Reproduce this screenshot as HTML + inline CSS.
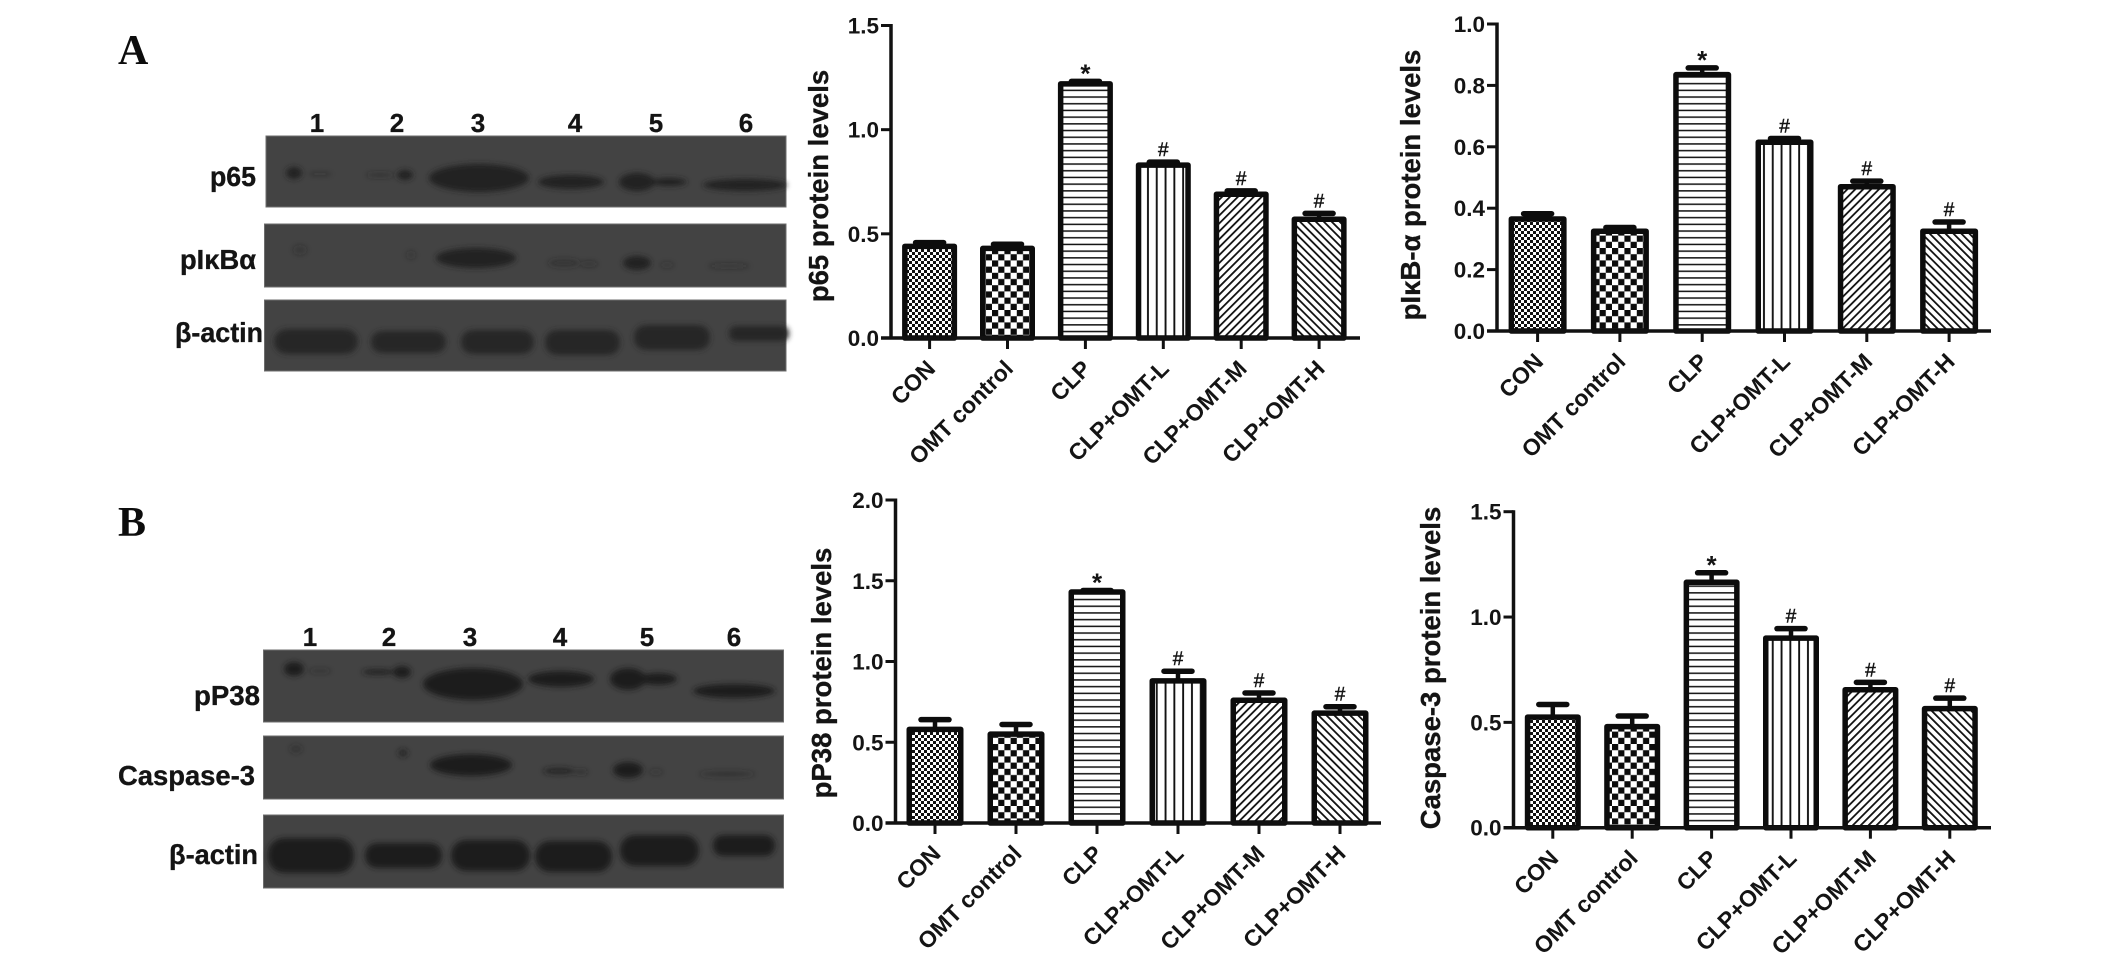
<!DOCTYPE html>
<html lang="en">
<head>
<meta charset="utf-8">
<title>Western blots and protein level bar charts</title>
<style>
html,body{margin:0;padding:0;background:#fff;}
body{width:2126px;height:976px;overflow:hidden;}
svg{display:block;}
text{font-family:"Liberation Sans",Arial,sans-serif;font-weight:bold;fill:#141414;}
.panel{font-family:"Liberation Serif",serif;font-size:42px;fill:#0c0c0c;}
.blot{fill:#434343;stroke:#6c6c6c;stroke-width:1;}
.lane{font-size:26px;text-anchor:middle;stroke:#141414;stroke-width:.3px;}
.blot-label{font-size:28px;text-anchor:end;stroke:#141414;stroke-width:.35px;}
</style>
</head>
<body>
<svg id="figure" xmlns="http://www.w3.org/2000/svg" width="2126" height="976" viewBox="0 0 2126 976">
<defs>
<filter id="soft" x="-40%" y="-60%" width="180%" height="220%"><feGaussianBlur stdDeviation="2.6"/></filter>
<pattern id="fill-fine" patternUnits="userSpaceOnUse" width="6" height="6"><rect width="6" height="6" fill="#fff"/><rect width="3" height="3" fill="#111"/><rect x="3" y="3" width="3" height="3" fill="#111"/></pattern>
<pattern id="fill-coarse" patternUnits="userSpaceOnUse" width="12.4" height="12.4"><rect width="12.4" height="12.4" fill="#fff"/><rect width="6.2" height="6.2" fill="#0c0c0c"/><rect x="6.2" y="6.2" width="6.2" height="6.2" fill="#0c0c0c"/></pattern>
<pattern id="fill-horizontal" patternUnits="userSpaceOnUse" width="6.7" height="6.7"><rect width="6.7" height="6.7" fill="#fff"/><rect y="2.5" width="6.7" height="1.5" fill="#111"/></pattern>
<pattern id="fill-vertical" patternUnits="userSpaceOnUse" width="8.8" height="8.8"><rect width="8.8" height="8.8" fill="#fff"/><rect x="3" width="1.9" height="8.8" fill="#111"/></pattern>
<pattern id="fill-forward" patternUnits="userSpaceOnUse" width="5.6" height="5.6" patternTransform="rotate(45)"><rect width="5.6" height="5.6" fill="#fff"/><rect width="1.8" height="5.6" fill="#111"/></pattern>
<pattern id="fill-back" patternUnits="userSpaceOnUse" width="5.6" height="5.6" patternTransform="rotate(-45)"><rect width="5.6" height="5.6" fill="#fff"/><rect width="1.8" height="5.6" fill="#111"/></pattern>
</defs>

<text class="panel" x="118" y="64">A</text>
<text class="panel" x="118" y="536">B</text>

<g>
<g>
<text class="lane" x="317" y="132">1</text>
<text class="lane" x="397" y="132">2</text>
<text class="lane" x="478" y="132">3</text>
<text class="lane" x="575" y="132">4</text>
<text class="lane" x="656" y="132">5</text>
<text class="lane" x="746" y="132">6</text>
</g>
<text class="blot-label" x="256" y="186" textLength="46" lengthAdjust="spacingAndGlyphs">p65</text>
<text class="blot-label" x="256" y="269" textLength="76" lengthAdjust="spacingAndGlyphs">pIκBα</text>
<text class="blot-label" x="263" y="342" textLength="88" lengthAdjust="spacingAndGlyphs">β-actin</text>
<rect class="blot" x="266" y="136" width="520" height="71"/>
<rect class="blot" x="264.5" y="224" width="521.5" height="63"/>
<rect class="blot" x="264.5" y="300" width="521.5" height="71"/>
<g fill="#222" filter="url(#soft)">
<ellipse cx="294" cy="173" rx="8" ry="6"/>
<ellipse cx="320" cy="174" rx="12" ry="2" opacity=".3"/>
<ellipse cx="380" cy="175" rx="14" ry="2.5" opacity=".45"/>
<ellipse cx="405" cy="175" rx="8" ry="5"/>
<ellipse cx="479" cy="178" rx="50" ry="14"/>
<ellipse cx="571" cy="182" rx="33" ry="7"/>
<ellipse cx="637" cy="182" rx="18" ry="9"/>
<ellipse cx="669" cy="182" rx="18" ry="4"/>
<ellipse cx="745" cy="185" rx="42" ry="6"/>
</g>
<g fill="#222" filter="url(#soft)">
<ellipse cx="300" cy="250" rx="7" ry="5" opacity=".3"/>
<ellipse cx="411" cy="255" rx="5" ry="4" opacity=".3"/>
<ellipse cx="476" cy="258" rx="40" ry="10"/>
<ellipse cx="564" cy="263" rx="16" ry="4" opacity=".45"/>
<ellipse cx="589" cy="264" rx="9" ry="3" opacity=".35"/>
<ellipse cx="637" cy="263" rx="14" ry="7"/>
<ellipse cx="667" cy="265" rx="7" ry="3" opacity=".3"/>
<ellipse cx="729" cy="266" rx="21" ry="3" opacity=".3"/>
</g>
<g fill="#262626" filter="url(#soft)">
<rect x="274" y="329" width="84" height="25" rx="13"/>
<rect x="371" y="331" width="75" height="22" rx="11"/>
<rect x="461" y="330" width="73" height="24" rx="12"/>
<rect x="545" y="330" width="75" height="25" rx="12"/>
<rect x="634" y="325" width="76" height="25" rx="12"/>
<rect x="729" y="326" width="60" height="15" rx="7"/>
</g>
</g>

<g>
<g>
<text class="lane" x="310" y="646">1</text>
<text class="lane" x="389" y="646">2</text>
<text class="lane" x="470" y="646">3</text>
<text class="lane" x="560" y="646">4</text>
<text class="lane" x="647" y="646">5</text>
<text class="lane" x="734" y="646">6</text>
</g>
<text class="blot-label" x="260" y="705" textLength="66" lengthAdjust="spacingAndGlyphs">pP38</text>
<text class="blot-label" x="255" y="785" textLength="137" lengthAdjust="spacingAndGlyphs">Caspase-3</text>
<text class="blot-label" x="258" y="864" textLength="89" lengthAdjust="spacingAndGlyphs">β-actin</text>
<rect class="blot" x="263.5" y="650" width="520" height="72"/>
<rect class="blot" x="263.5" y="736" width="520" height="63"/>
<rect class="blot" x="263.5" y="815" width="520" height="73"/>
<g fill="#1f1f1f" filter="url(#soft)">
<ellipse cx="294" cy="669" rx="10" ry="7"/>
<ellipse cx="320" cy="671" rx="11" ry="2" opacity=".5"/>
<ellipse cx="378" cy="672" rx="16" ry="2.5"/>
<ellipse cx="402" cy="672" rx="9" ry="6"/>
<ellipse cx="473" cy="684" rx="50" ry="16"/>
<ellipse cx="561" cy="679" rx="33" ry="8"/>
<ellipse cx="628" cy="679" rx="18" ry="11"/>
<ellipse cx="658" cy="679" rx="19" ry="6"/>
<ellipse cx="734" cy="691" rx="41" ry="7"/>
</g>
<g fill="#1f1f1f" filter="url(#soft)">
<ellipse cx="296" cy="749" rx="6" ry="4" opacity=".45"/>
<ellipse cx="403" cy="753" rx="5" ry="4" opacity=".7"/>
<ellipse cx="471" cy="765" rx="41" ry="11"/>
<ellipse cx="559" cy="771" rx="16" ry="3.5" opacity=".7"/>
<ellipse cx="581" cy="772" rx="7" ry="2.5" opacity=".5"/>
<ellipse cx="628" cy="770" rx="15" ry="8"/>
<ellipse cx="656" cy="772" rx="7" ry="3" opacity=".3"/>
<ellipse cx="727" cy="774" rx="28" ry="3" opacity=".45"/>
</g>
<g fill="#1f1f1f" filter="url(#soft)">
<rect x="268" y="838" width="86" height="35" rx="16"/>
<rect x="365" y="843" width="77" height="25" rx="12"/>
<rect x="451" y="840" width="79" height="31" rx="15"/>
<rect x="535" y="841" width="77" height="31" rx="15"/>
<rect x="620" y="835" width="79" height="31" rx="15"/>
<rect x="713" y="835" width="62" height="21" rx="10"/>
</g>
</g>
</svg>

<script>
const categories = ["CON", "OMT control", "CLP", "CLP+OMT-L", "CLP+OMT-M", "CLP+OMT-H"];
const significance = ["", "", "*", "#", "#", "#"];

const p65Values = [0.44, 0.43, 1.22, 0.83, 0.69, 0.57];
const p65Errors = [0.018, 0.02, 0.012, 0.014, 0.016, 0.028];
const p65Ticks = ["0.0", "0.5", "1.0", "1.5"];

const pikbaValues = [0.365, 0.325, 0.835, 0.615, 0.47, 0.325];
const pikbaErrors = [0.017, 0.012, 0.022, 0.012, 0.018, 0.03];
const pikbaTicks = ["0.0", "0.2", "0.4", "0.6", "0.8", "1.0"];

const pp38Values = [0.58, 0.55, 1.43, 0.88, 0.76, 0.68];
const pp38Errors = [0.06, 0.06, 0.01, 0.06, 0.045, 0.04];
const pp38Ticks = ["0.0", "0.5", "1.0", "1.5", "2.0"];

const caspaseValues = [0.525, 0.48, 1.165, 0.90, 0.655, 0.565];
const caspaseErrors = [0.06, 0.05, 0.045, 0.045, 0.035, 0.05];
const caspaseTicks = ["0.0", "0.5", "1.0", "1.5"];

const barFills = ["fill-fine", "fill-coarse", "fill-horizontal", "fill-vertical", "fill-forward", "fill-back"];

const NS = "http://www.w3.org/2000/svg";
const figure = document.getElementById("figure");

function shape(parent, tag, props) {
  const el = document.createElementNS(NS, tag);
  for (const key in props) el.setAttribute(key, props[key]);
  parent.appendChild(el);
  return el;
}

function drawChart(layout, title, values, errors, ticks) {
  const group = shape(figure, "g", {});
  
  

  const yMax = parseFloat(ticks[ticks.length - 1]);
  const yScale = v => layout.zeroY - (v / yMax) * (layout.zeroY - layout.topY);
  const xScale = i => layout.firstX + i * layout.stepX;
  const barWidth = layout.barWidth;

  values.forEach((value, i) => {
    const cx = xScale(i);
    const top = yScale(value);
    const errTop = yScale(value + errors[i]);

    const stem = shape(group, "line", { x1: cx, x2: cx, y1: top, y2: errTop, stroke: "#0c0c0c", "stroke-width": 4.5 });
    
    

    const cap = shape(group, "line", { x1: cx - 14, x2: cx + 14, y1: errTop, y2: errTop, stroke: "#0c0c0c", "stroke-width": 5.5, "stroke-linecap": "round" });
    
    

    const bar = shape(group, "rect", {
      x: cx - barWidth / 2 + 2.75, y: top, width: barWidth - 5.5, height: layout.zeroY - top,
      fill: "url(#" + barFills[i] + ")", stroke: "#0c0c0c", "stroke-width": 5.5, "stroke-linejoin": "round"
    });
    
    

    if (significance[i]) {
      const isStar = significance[i] === "*";
      const mark = shape(group, "text", { x: cx, y: isStar ? errTop + 1 : errTop - 6, "text-anchor": "middle", "font-size": isStar ? 26 : 19, style: isStar ? "" : "font-weight:normal;stroke:#141414;stroke-width:.45px" });
      mark.textContent = significance[i];
      
      
    }

    const xTick = shape(group, "line", { x1: cx, x2: cx, y1: layout.zeroY, y2: layout.zeroY + 11, stroke: "#111", "stroke-width": 3 });
    
    

    const labelX = cx + 7;
    const labelY = layout.zeroY + 32;
    const xLabel = shape(group, "text", { x: labelX, y: labelY, "text-anchor": "end", "font-size": 23, transform: "rotate(-45 " + labelX + " " + labelY + ")" });
    xLabel.textContent = categories[i];
    
    
  });

  const yAxis = shape(group, "line", { x1: layout.axisX, x2: layout.axisX, y1: layout.topY - 1.5, y2: layout.zeroY, stroke: "#111", "stroke-width": 3.5 });
  
  

  const xAxis = shape(group, "line", { x1: layout.axisX - 10, x2: layout.axisEnd, y1: layout.zeroY, y2: layout.zeroY, stroke: "#111", "stroke-width": 3.5 });
  
  

  ticks.forEach(tick => {
    const y = yScale(parseFloat(tick));
    const yTick = shape(group, "line", { x1: layout.axisX - 10, x2: layout.axisX, y1: y, y2: y, stroke: "#111", "stroke-width": 3 });
    
    

    const yLabel = shape(group, "text", { x: layout.axisX - 12, y: y + 8, "text-anchor": "end", "font-size": 22.5 });
    yLabel.textContent = tick;
    
    
  });

  const yTitle = shape(group, "text", { x: layout.titleX, y: layout.titleY, "text-anchor": "middle", "font-size": 27.5, stroke: "#141414", "stroke-width": 0.3, transform: "rotate(-90 " + layout.titleX + " " + layout.titleY + ")" });
  yTitle.textContent = title;
  
  
}

drawChart({ name: "p65-chart", axisX: 891, axisEnd: 1360, topY: 25.5, zeroY: 338, firstX: 929.6, stepX: 77.9, barWidth: 55, titleX: 828, titleY: 186 },
  "p65 protein levels", p65Values, p65Errors, p65Ticks);
drawChart({ name: "pikb-alpha-chart", axisX: 1497, axisEnd: 1991, topY: 24, zeroY: 331, firstX: 1537.6, stepX: 82.3, barWidth: 58, titleX: 1420, titleY: 185 },
  "pIκB-α protein levels", pikbaValues, pikbaErrors, pikbaTicks);
drawChart({ name: "pp38-chart", axisX: 895.5, axisEnd: 1381, topY: 500, zeroY: 823, firstX: 935, stepX: 81, barWidth: 57, titleX: 831, titleY: 673 },
  "pP38 protein levels", pp38Values, pp38Errors, pp38Ticks);
drawChart({ name: "caspase-3-chart", axisX: 1513.5, axisEnd: 1991, topY: 511.7, zeroY: 827.7, firstX: 1552.8, stepX: 79.4, barWidth: 56, titleX: 1440, titleY: 668 },
  "Caspase-3 protein levels", caspaseValues, caspaseErrors, caspaseTicks);
</script>
</body>
</html>
